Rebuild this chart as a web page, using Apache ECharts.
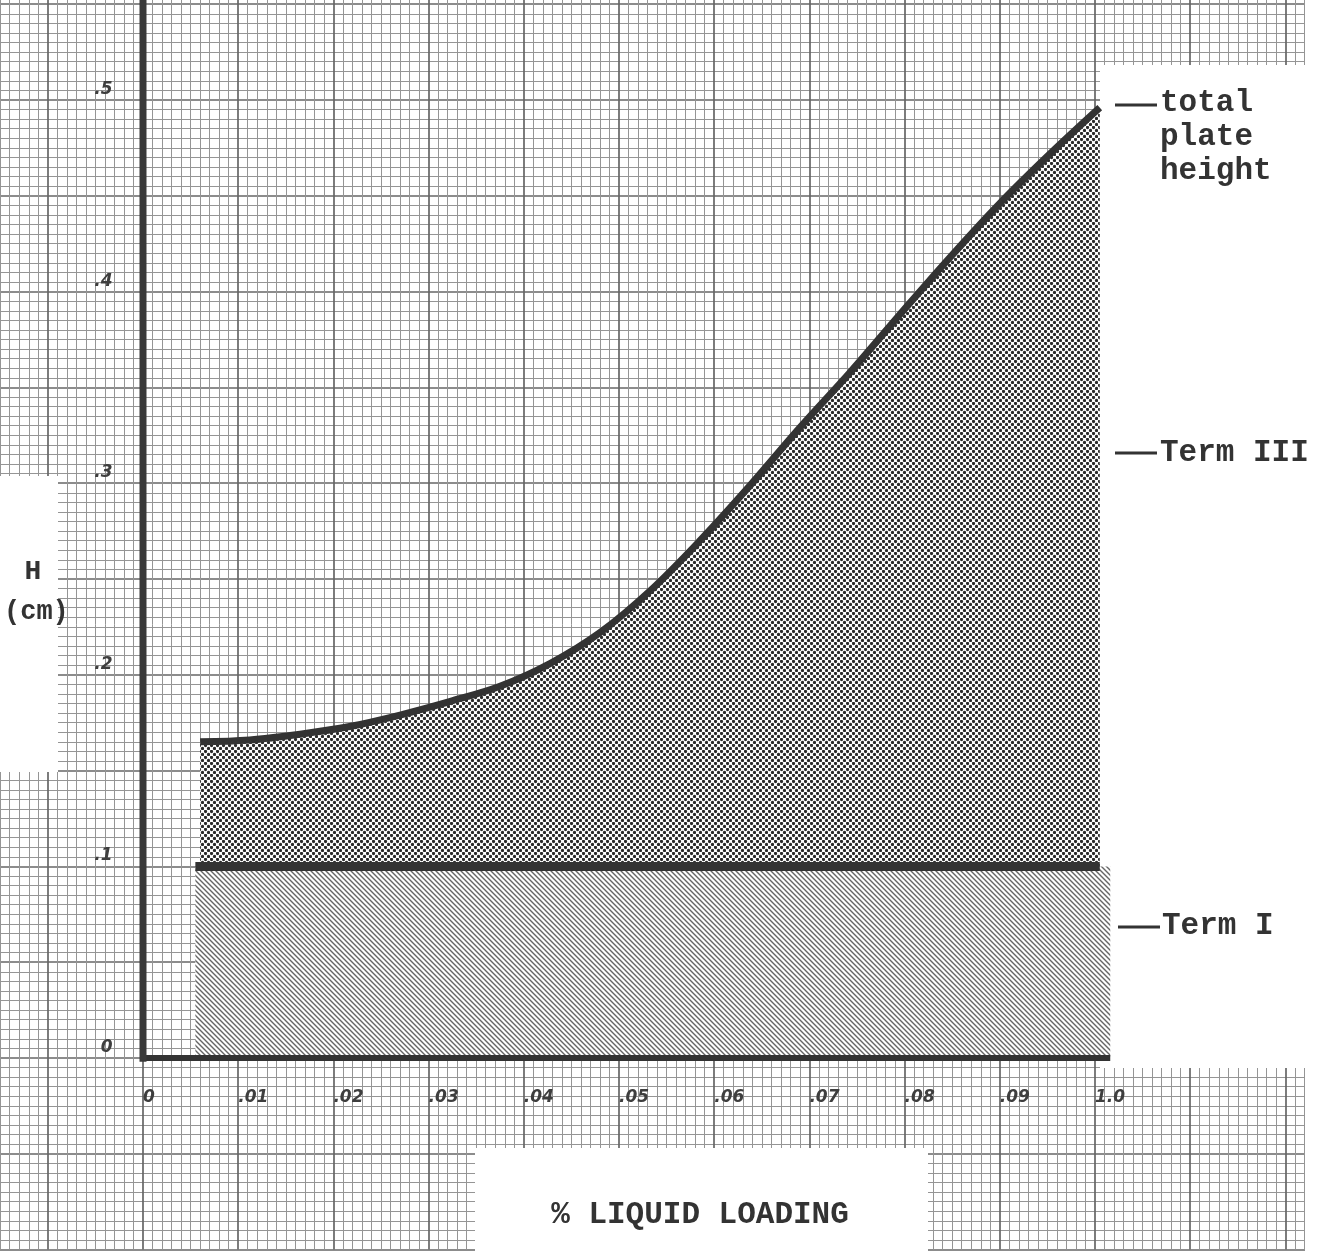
<!DOCTYPE html>
<html>
<head>
<meta charset="utf-8">
<script src="https://cdn.jsdelivr.net/npm/echarts@6/dist/echarts.min.js"></script>
<style>
  html, body { margin: 0; padding: 0; background: #ffffff; }
  #chart { width: 1330px; height: 1251px; }
</style>
</head>
<body>
<div id="chart"></div>
<script>
// ---- data ----
const xTickLabels = ['0', '.01', '.02', '.03', '.04', '.05', '.06', '.07', '.08', '.09', '1.0'];
const yTickLabels = ['0', '.1', '.2', '.3', '.4', '.5'];
// % liquid loading (x) and total plate height H in cm (y)
const loadingX = [0.006, 0.0112, 0.0165, 0.0217, 0.027, 0.0322, 0.0375, 0.0428, 0.048, 0.0533,
                  0.0585, 0.0638, 0.069, 0.0743, 0.0795, 0.0848, 0.090, 0.0953, 0.1005];
const totalH   = [0.165, 0.166, 0.169, 0.173, 0.179, 0.186, 0.194, 0.206, 0.222, 0.244,
                  0.270, 0.299, 0.329, 0.358, 0.388, 0.418, 0.446, 0.472, 0.496];
const termIValue = 0.1;
const termIRange = [0.0055, 0.1016];     // x extent of the Term I band
const termILineRange = [0.0055, 0.1005]; // x extent of the Term I boundary line
const baseRange = [0, 0.1016];           // x extent of the heavy baseline
const yAxisRange = [-0.002, 0.6];        // y extent of the heavy vertical axis line

// ---- patterns ----
function dotPattern() {
  const c = document.createElement('canvas');
  c.width = 6; c.height = 6;
  const g = c.getContext('2d');
  g.fillStyle = '#ffffff'; g.fillRect(0, 0, 6, 6);
  g.fillStyle = '#2a2a2a';
  [[1.5, 1.5], [4.5, 4.5]].forEach(p => { g.beginPath(); g.arc(p[0], p[1], 1.65, 0, Math.PI * 2); g.fill(); });
  return c;
}
function hatchPattern() {
  const s = 5;
  const c = document.createElement('canvas');
  c.width = s; c.height = s;
  const g = c.getContext('2d');
  g.fillStyle = '#ffffff'; g.fillRect(0, 0, s, s);
  g.strokeStyle = '#666666'; g.lineWidth = 1.4;
  g.beginPath();
  g.moveTo(-1, -1); g.lineTo(s + 1, s + 1);
  g.moveTo(-1, s - 1); g.lineTo(1, s + 1);
  g.moveTo(s - 1, -1); g.lineTo(s + 1, 1);
  g.stroke();
  return c;
}

const curveData = loadingX.map((x, i) => [x, totalH[i]]);
const bandData = [[termIRange[0], termIValue], [termIRange[1], termIValue]];
const termILine = [[termILineRange[0], termIValue], [termILineRange[1], termIValue]];
const baseLine = [[baseRange[0], 0], [baseRange[1], 0]];
const vLine = [[0, yAxisRange[0]], [0, yAxisRange[1]]];

const dark = '#333333';
const gridMajor = { lineStyle: { color: '#666666', width: 1.7 } };
const gridMinor = { lineStyle: { color: '#959595', width: 1 } };
const tickFont = { fontFamily: 'DejaVu Sans', fontStyle: 'italic', fontWeight: 'bold', fontSize: 17, color: '#3e3e3e' };
const typeFont = '"Liberation Mono", monospace';

const chart = echarts.init(document.getElementById('chart'), null, { renderer: 'canvas' });
chart.setOption({
  animation: false,
  backgroundColor: '#ffffff',
  grid: { left: -47.4, right: -50.6, top: -91.6, bottom: 1.4, containLabel: false, outerBoundsMode: 'none' },
  xAxis: {
    type: 'value', min: -0.02, max: 0.13, interval: 0.01,
    axisLine: { show: false }, axisTick: { show: false },
    minorTick: { show: false, splitNumber: 10 },
    splitLine: Object.assign({ show: true }, gridMajor),
    minorSplitLine: Object.assign({ show: true }, gridMinor),
    axisLabel: Object.assign({
      inside: true, margin: 152, align: 'left', verticalAlign: 'middle',
      formatter: v => {
        const i = Math.round(v * 100);
        return (Math.abs(v * 100 - i) < 1e-6 && i >= 0 && i < xTickLabels.length) ? xTickLabels[i] : '';
      }
    }, tickFont)
  },
  yAxis: {
    type: 'value', min: -0.1, max: 0.6, interval: 0.05,
    axisLine: { show: false }, axisTick: { show: false },
    minorTick: { show: false, splitNumber: 10 },
    splitLine: Object.assign({ show: true }, gridMajor),
    minorSplitLine: Object.assign({ show: true }, gridMinor),
    axisLabel: Object.assign({
      inside: true, margin: 160, align: 'right', verticalAlign: 'bottom', padding: [0, 0, 2, 0],
      formatter: v => {
        const i = Math.round(v * 10);
        return (Math.abs(v * 10 - i) < 1e-6 && i >= 0 && i < yTickLabels.length) ? yTickLabels[i] : '';
      }
    }, tickFont)
  },
  series: [
    {
      name: 'total plate height', type: 'line', data: curveData, smooth: 0.35, symbol: 'none', z: 3,
      lineStyle: { color: dark, width: 7, cap: 'butt' },
      areaStyle: { color: { image: dotPattern(), repeat: 'repeat' }, opacity: 1 }
    },
    {
      name: 'Term I band', type: 'line', data: bandData, symbol: 'none', z: 4,
      lineStyle: { width: 0 },
      areaStyle: { color: { image: hatchPattern(), repeat: 'repeat' }, opacity: 1 }
    },
    {
      name: 'Term I', type: 'line', data: termILine, symbol: 'none', z: 5,
      lineStyle: { color: dark, width: 9 }
    },
    {
      name: 'baseline', type: 'line', data: baseLine, symbol: 'none', z: 5,
      lineStyle: { color: dark, width: 6 }
    },
    {
      name: 'H axis', type: 'line', data: vLine, symbol: 'none', z: 5,
      lineStyle: { color: '#3a3a3a', width: 7 }
    }
  ],
  graphic: [
    { type: 'rect', z: 1, shape: { x: 1100, y: 65, width: 230, height: 1003 }, style: { fill: '#ffffff' } },
    { type: 'rect', z: 1, shape: { x: 1305, y: 0, width: 25, height: 1251 }, style: { fill: '#ffffff' } },
    { type: 'rect', z: 1, shape: { x: 0, y: 476, width: 58, height: 296 }, style: { fill: '#ffffff' } },
    { type: 'rect', z: 1, shape: { x: 475, y: 1148, width: 453, height: 103 }, style: { fill: '#ffffff' } },

    { type: 'line', z: 10, shape: { x1: 1115, y1: 105, x2: 1157, y2: 105 }, style: { stroke: dark, lineWidth: 3 } },
    { type: 'text', z: 10, x: 1160, y: 86, style: { text: 'total\nplate\nheight', font: 'bold 31px ' + typeFont, fill: dark, lineHeight: 34, textAlign: 'left', textVerticalAlign: 'top' } },

    { type: 'line', z: 10, shape: { x1: 1115, y1: 453, x2: 1157, y2: 453 }, style: { stroke: dark, lineWidth: 3 } },
    { type: 'text', z: 10, x: 1160, y: 453, style: { text: 'Term III', font: 'bold 31px ' + typeFont, fill: dark, textAlign: 'left', textVerticalAlign: 'middle' } },

    { type: 'line', z: 10, shape: { x1: 1118, y1: 927, x2: 1160, y2: 927 }, style: { stroke: dark, lineWidth: 3 } },
    { type: 'text', z: 10, x: 1162, y: 926, style: { text: 'Term I', font: 'bold 31px ' + typeFont, fill: dark, textAlign: 'left', textVerticalAlign: 'middle' } },

    { type: 'text', z: 10, x: 700, y: 1215, style: { text: '% LIQUID LOADING', font: 'bold 31px ' + typeFont, fill: dark, textAlign: 'center', textVerticalAlign: 'middle' } },

    { type: 'text', z: 10, x: 33, y: 572, style: { text: 'H', font: 'bold 28px ' + typeFont, fill: dark, textAlign: 'center', textVerticalAlign: 'middle' } },
    { type: 'text', z: 10, x: 4, y: 612, style: { text: '(cm)', font: 'bold 27px ' + typeFont, fill: dark, textAlign: 'left', textVerticalAlign: 'middle' } }
  ]
});
</script>
</body>
</html>
